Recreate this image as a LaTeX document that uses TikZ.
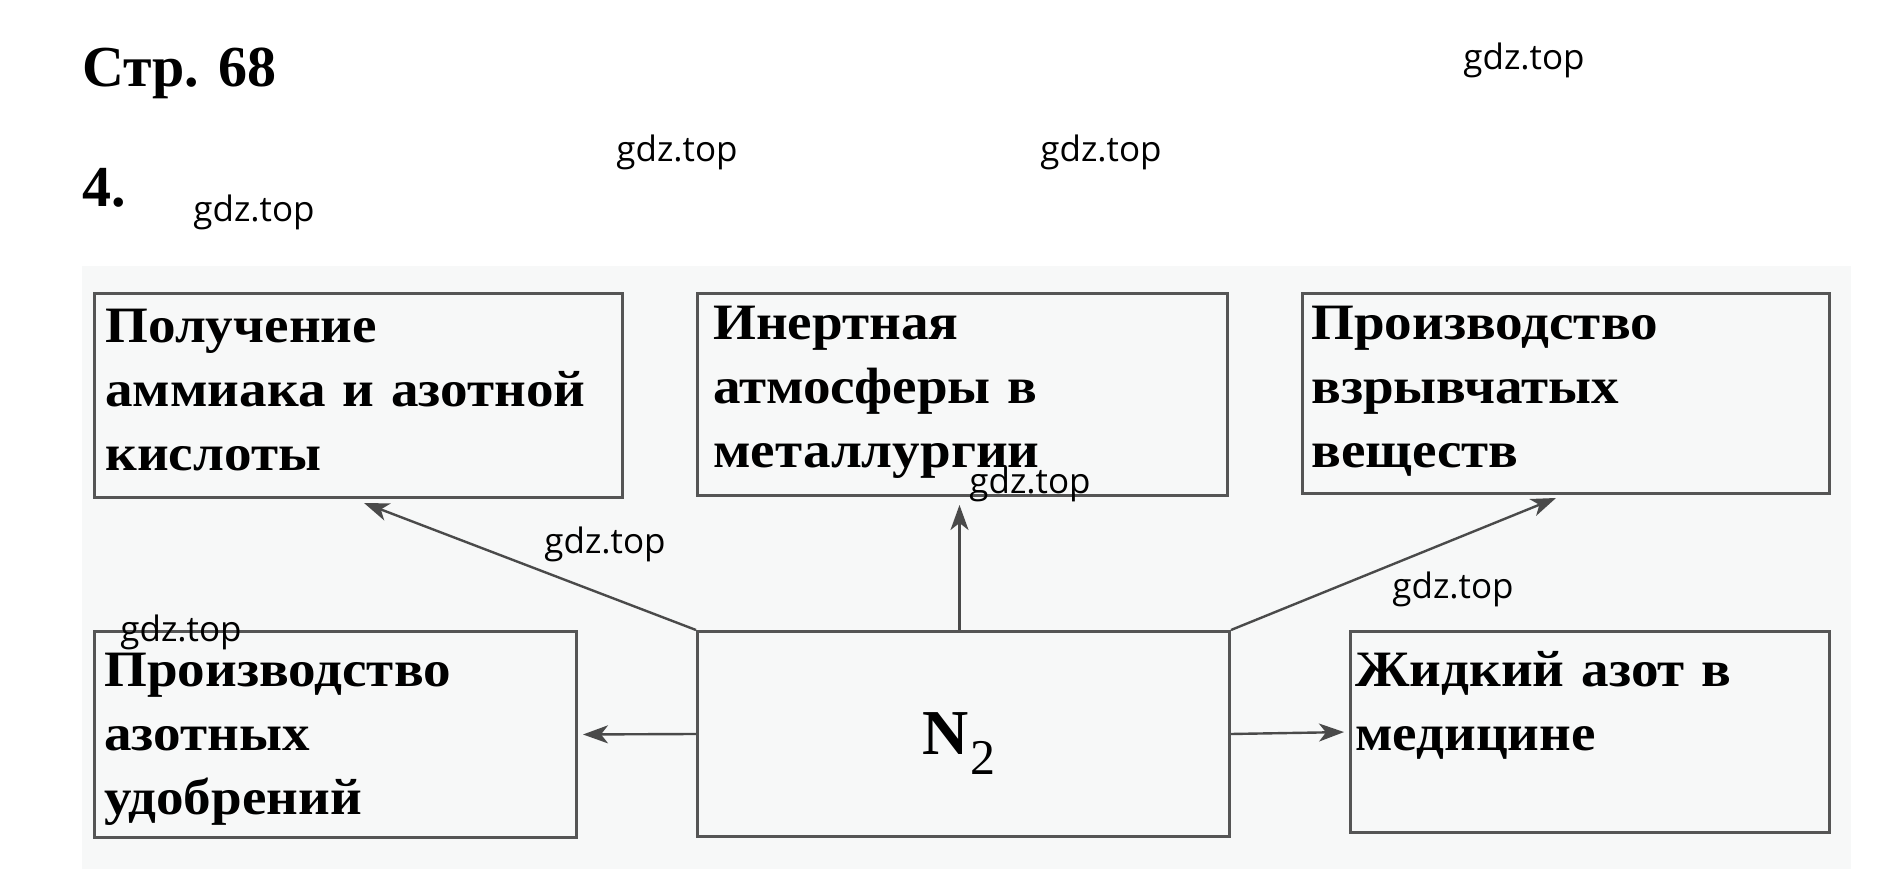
\documentclass[tikz,border=0pt]{standalone}
\usepackage{fontspec}
\setmainfont{Liberation Serif}
\newfontfamily\boxfam[FakeStretch=1.08]{Liberation Serif}
\newfontfamily\wmfont{Open Sans}
\usetikzlibrary{arrows.meta,calc}
\definecolor{edge}{HTML}{555555}
\definecolor{arrcol}{HTML}{4A4A4A}
\definecolor{scan}{HTML}{F7F8F8}
\newcommand{\boxfont}{\boxfam\fontsize{25.5}{32}\selectfont\bfseries}
\begin{document}
\begin{tikzpicture}[x=0.5pt,y=-0.5pt,
  box/.style n args={2}{draw=edge, line width=1.5pt, anchor=north west,
     inner sep=0pt, minimum width=#1*0.5pt, minimum height=#2*0.5pt},
  lbl/.style={anchor=base west, align=left, font=\boxfont, inner sep=0pt, text width=300pt},
  wmk/.style={font=\wmfont\fontsize{17.5}{17.5}\selectfont, inner sep=0pt},
  head/.style={anchor=base west, font=\fontsize{29}{29}\selectfont\bfseries, inner sep=0pt},
  arr/.style={draw=arrcol, line width=1.2pt, -{Stealth[length=12.5pt, width=9pt, inset=3.5pt]}}]
\useasboundingbox (0,0) rectangle (1897,886);
\fill[white] (0,0) rectangle (1897,886);
\fill[scan] (82,266) rectangle (1851,869);

\node[head] (title) at (82,87) {Стр. 68};
\node[head] (num) at (82,207) {4.};

\node[box={528}{204}] (b1) at (93,292) {};
\node[box={530}{202}] (b2) at (696,292) {};
\node[box={527}{200}] (b3) at (1301,292) {};
\node[box={482}{206}] (b4) at (93,630) {};
\node[box={532}{205}] (b5) at (696,630) {};
\node[box={479}{201}] (b6) at (1349,630) {};

\node[lbl] (l1) at (105,343) {Получение\\аммиака и азотной\\кислоты};
\node[lbl] (l2) at (713,340) {Инертная\\атмосферы в\\металлургии};
\node[lbl] (l3) at (1311,340) {Производство\\взрывчатых\\веществ};
\node[lbl] (l4) at (104,687) {Производство\\азотных\\удобрений};
\node[lbl] (l6) at (1355,687) {Жидкий азот в\\медицине};
\node[anchor=base west, inner sep=0pt, font=\fontsize{32}{32}\selectfont] (n2) at (922,755)
  {\textbf{N}\hspace{1pt}\raisebox{-10pt}{\fontsize{25}{25}\selectfont 2}};

\coordinate (t1) at (364,503);
\coordinate (t3) at (1556,498);
\draw[arr] (b5.north west) -- (t1);
\draw[arr, shorten >=4pt] ($(b5.north)+(-4,0)$) -- ($(b2.south)+(-3,0)$);
\draw[arr] (b5.north east) -- (t3);
\draw[arr, shorten >=2.5pt] (b5.west) -- (b4.east);
\draw[arr, shorten >=2.5pt] (b5.east) -- (b6.west);

\node[wmk] (w1) at (1524,60) {gdz.top};
\node[wmk] (w2) at (677,152) {gdz.top};
\node[wmk] (w3) at (1101,152) {gdz.top};
\node[wmk] (w4) at (254,212) {gdz.top};
\node[wmk] (w5) at (605,544) {gdz.top};
\node[wmk] (w6) at (1030,484) {gdz.top};
\node[wmk] (w7) at (1453,589) {gdz.top};
\node[wmk] (w8) at (181,632) {gdz.top};
\end{tikzpicture}
\end{document}
